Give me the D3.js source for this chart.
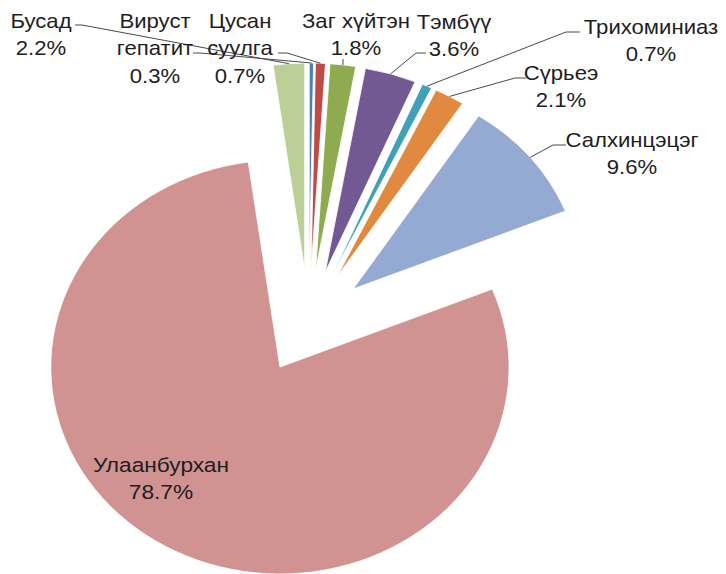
<!DOCTYPE html>
<html>
<head>
<meta charset="utf-8">
<script src="https://cdn.jsdelivr.net/npm/d3@7"></script>
<style>
  body { margin: 0; background: #fff; }
  svg text { font-family: "Liberation Sans", Arial, sans-serif; fill: #1e1e1e; }
</style>
</head>
<body>
<svg width="726" height="574"></svg>
<script>
// data, clockwise from 12 o'clock
var names = ['Вируст\nгепатит', 'Цусан\nсуулга', 'Заг хүйтэн', 'Тэмбүү', 'Трихоминиаз',
  'Сүрьеэ', 'Салхинцэцэг', 'Улаанбурхан', 'Бусад'];
var values = [0.3, 0.7, 1.8, 3.6, 0.7, 2.1, 9.6, 78.7, 2.2];

var colors = ['#4a7ebb', '#be4b48', '#8eab4f', '#735993', '#41a0b9', '#e0893f',
  '#94aad2', '#d19391', '#bbcf97'];

// label centre (first line) and elbow of the leader line
var labelPos = [[155, 21], [240, 21], [356, 21], [454, 22], [651, 27], [561, 73], [632, 140], [161, 465], [41, 21]];
var elbows = [[[193, 53], [200, 53]], [[278, 53], [287, 53]], [[343, 59]], [[426, 53], [416, 53]],
  [[580, 32], [566, 32]], [[526, 78], [515, 78]], [[566, 145], [553, 145]], null, [[75, 25], [82, 25]]];

var svg = d3.select('svg'),
  cx = 308.7,
  cy = 322,
  r = 207,
  sx = 1.107, // chart is stretched horizontally
  explode = 52,
  lineH = 27.5;

var pie = d3.pie().sort(null).value(function(d) { return d; });
var arcs = pie(values);
var arc = d3.arc().innerRadius(0).outerRadius(r);

function mid(d) { return (d.startAngle + d.endAngle) / 2; }

var g = svg.append('g')
  .attr('transform', 'translate(' + cx + ',' + cy + ') scale(' + sx + ',1)');

g.selectAll('path')
  .data(arcs)
  .enter()
  .append('path')
  .attr('transform', function(d) {
    var a = mid(d);
    return 'translate(' + explode * Math.sin(a) + ',' + -explode * Math.cos(a) + ')';
  })
  .attr('d', arc)
  .attr('fill', function(d, i) { return colors[i]; })
  .attr('stroke', '#fff')
  .attr('stroke-width', 0.8);

// point on the outer arc, in page coordinates
function rimPoint(d) {
  var a = mid(d);
  return [cx + sx * (explode + r) * Math.sin(a), cy - (explode + r) * Math.cos(a)];
}

var line = d3.line();
svg.append('g')
  .selectAll('path')
  .data(arcs.filter(function(d, i) { return elbows[i]; }))
  .enter()
  .append('path')
  .attr('d', function(d) {
    return line(elbows[d.index].concat([rimPoint(d)]));
  })
  .attr('fill', 'none')
  .attr('stroke', '#4a4a4a')
  .attr('stroke-width', 1);

var labels = svg.append('g')
  .selectAll('text')
  .data(arcs)
  .enter()
  .append('text')
  .attr('text-anchor', 'middle')
  .attr('font-size', function(d) { return d.index === 7 ? 20.5 : 20; })
  .attr('transform', function(d) {
    var p = labelPos[d.index];
    return 'translate(' + p[0] + ',' + (p[1] + 7) + ') scale(' + sx + ',1)';
  });

labels.selectAll('tspan')
  .data(function(d) {
    return names[d.index].split('\n').concat([values[d.index].toFixed(1) + '%']);
  })
  .enter()
  .append('tspan')
  .attr('x', 0)
  .attr('y', function(t, j) { return j * lineH; })
  .text(function(t) { return t; });
</script>
</body>
</html>
